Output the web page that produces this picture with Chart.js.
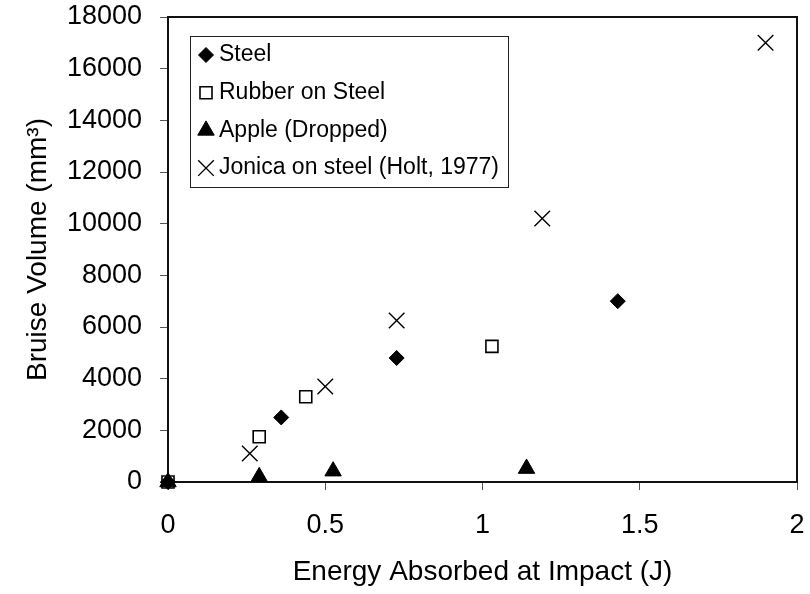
<!DOCTYPE html>
<html>
<head>
<meta charset="utf-8">
<title>Bruise Volume vs Energy Absorbed</title>
<script src="https://cdn.jsdelivr.net/npm/chart.js@4"></script>
<style>
  html, body { margin: 0; padding: 0; background: #fff; }
  #wrap { width: 810px; height: 594px; }
</style>
</head>
<body>
<div id="wrap"><canvas id="bruiseChart" width="810" height="594"></canvas></div>
<script>
// Energy absorbed (J) and bruise volume (mm3) for each impact type
const steelEnergy   = [0, 0.36, 0.727, 1.43];
const steelVolume   = [0, 2500, 4800, 7000];

const rubberEnergy  = [0, 0.29, 0.438, 1.03];
const rubberVolume  = [0, 1750, 3300, 5250];

const appleEnergy   = [0, 0.29, 0.525, 1.14];
const appleVolume   = [0, 200, 420, 520];

const jonicaEnergy  = [0.26, 0.5, 0.727, 1.19, 1.9];
const jonicaVolume  = [1100, 3700, 6250, 10200, 17000];

const seriesNames = ['Steel', 'Rubber on Steel', 'Apple (Dropped)', 'Jonica on steel (Holt, 1977)'];

const xTicks = [0, 0.5, 1, 1.5, 2];
const yTicks = [0, 2000, 4000, 6000, 8000, 10000, 12000, 14000, 16000, 18000];

const FONT = '"Liberation Sans", Arial, sans-serif';

function pts(xs, ys){
    return xs.map((x,i)=>({x: x, y: ys[i]}));
}

// frame around the plot area (top and right edges)
const plotFrame = {
    id: 'plotFrame',
    beforeDatasetsDraw(chart){
        const {ctx, chartArea: a} = chart;
        ctx.save();
        ctx.strokeStyle = '#111';
        ctx.lineWidth = 2;
        ctx.beginPath();
        ctx.moveTo(a.left, a.top);
        ctx.lineTo(a.right, a.top);
        ctx.lineTo(a.right, a.bottom);
        ctx.stroke();
        ctx.restore();
    }
};

// boxed legend sitting inside the plot area
const boxLegend = {
    id: 'boxLegend',
    afterDraw(chart, args, opts){
        const ctx = chart.ctx;
        const a = chart.chartArea;
        const left = a.left + opts.x, top = a.top + opts.y;
        ctx.save();
        ctx.fillStyle = '#fff';
        ctx.fillRect(left, top, opts.width, opts.height);
        ctx.strokeStyle = '#222';
        ctx.lineWidth = 1;
        ctx.strokeRect(left + 0.5, top + 0.5, opts.width, opts.height);
        ctx.font = opts.fontSize + 'px ' + FONT;
        ctx.textBaseline = 'middle';
        chart.data.datasets.forEach((ds, i) => {
            const cy = top + opts.firstRow + i * opts.rowGap;
            ctx.fillStyle = ds.backgroundColor;
            ctx.strokeStyle = ds.borderColor;
            ctx.lineWidth = ds.borderWidth;
            Chart.helpers.drawPoint(ctx, {
                pointStyle: ds.pointStyle,
                radius: ds.pointRadius,
                borderWidth: ds.borderWidth,
                rotation: 0
            }, left + opts.markerX, cy);
            ctx.fillStyle = '#000';
            ctx.fillText(ds.label, left + opts.textX, cy);
        });
        ctx.restore();
    }
};

const ctx = document.getElementById('bruiseChart').getContext('2d');
new Chart(ctx, {
    type: 'scatter',
    data: {
        datasets: [
            {
                label: seriesNames[0],
                data: pts(steelEnergy, steelVolume),
                pointStyle: 'rectRot',
                pointRadius: 7.5,
                backgroundColor: '#000',
                borderColor: '#000',
                borderWidth: 1,
                clip: false
            },
            {
                label: seriesNames[1],
                data: pts(rubberEnergy, rubberVolume),
                pointStyle: 'rect',
                pointRadius: 8.5,
                backgroundColor: 'rgba(0,0,0,0)',
                borderColor: '#000',
                borderWidth: 1.6,
                clip: false
            },
            {
                label: seriesNames[2],
                data: pts(appleEnergy, appleVolume),
                pointStyle: 'triangle',
                pointRadius: 9.5,
                backgroundColor: '#000',
                borderColor: '#000',
                borderWidth: 1,
                clip: false
            },
            {
                label: seriesNames[3],
                data: pts(jonicaEnergy, jonicaVolume),
                pointStyle: 'crossRot',
                pointRadius: 11,
                backgroundColor: '#000',
                borderColor: '#000',
                borderWidth: 1.4,
                clip: false
            }
        ]
    },
    options: {
        responsive: false,
        animation: false,
        layout: { padding: { top: 17, right: 13, bottom: 0, left: 0 } },
        plugins: {
            legend: { display: false },
            tooltip: { enabled: false },
            boxLegend: {
                x: 22, y: 19, width: 318, height: 151,
                markerX: 16, textX: 29, firstRow: 19, rowGap: 37.7,
                fontSize: 23
            }
        },
        scales: {
            x: {
                type: 'linear',
                min: 0,
                max: 2,
                afterBuildTicks: s => { s.ticks = xTicks.map(v => ({value: v})); },
                afterFit: s => { s.height = 112; s.paddingLeft = 0; s.paddingRight = 0; },
                grid: { drawOnChartArea: false, drawTicks: true, tickLength: 8, tickColor: '#555', tickWidth: 1 },
                border: { display: true, color: '#111', width: 2 },
                ticks: {
                    color: '#000',
                    padding: 19,
                    maxRotation: 0,
                    font: { family: FONT, size: 27 },
                    callback: v => String(v)
                },
                title: {
                    display: true,
                    text: 'Energy Absorbed at Impact (J)',
                    color: '#000',
                    font: { family: FONT, size: 28 },
                    padding: { top: 0, bottom: 5 }
                }
            },
            y: {
                type: 'linear',
                min: 0,
                max: 18000,
                afterBuildTicks: s => { s.ticks = yTicks.map(v => ({value: v})); },
                afterFit: s => { s.width = 168; s.paddingTop = 0; s.paddingBottom = 0; },
                grid: { drawOnChartArea: false, drawTicks: true, tickLength: 8, tickColor: '#555', tickWidth: 1 },
                border: { display: true, color: '#111', width: 2 },
                ticks: {
                    color: '#000',
                    padding: 18,
                    font: { family: FONT, size: 27 },
                    callback: v => String(v)
                },
                title: {
                    display: true,
                    text: 'Bruise Volume (mm³)',
                    color: '#000',
                    font: { family: FONT, size: 28 },
                    padding: { top: 21, bottom: 0 }
                }
            }
        }
    },
    plugins: [plotFrame, boxLegend]
});
</script>
</body>
</html>
